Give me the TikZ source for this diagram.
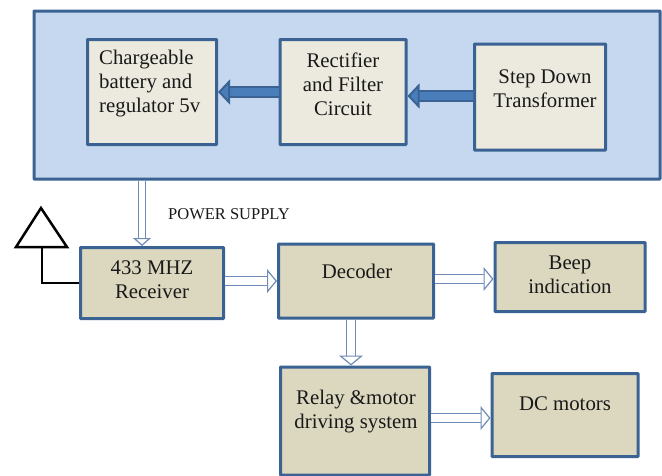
\documentclass[tikz,border=0pt]{standalone}
\usepackage{fontspec}
\setmainfont{Liberation Serif}
\usetikzlibrary{arrows.meta}
\usetikzlibrary{calc}
\usetikzlibrary{positioning}
\definecolor{boxline}{HTML}{3A6292}
\definecolor{panelfill}{HTML}{C6D8F0}
\definecolor{lightfill}{HTML}{ECEADF}
\definecolor{darkfill}{HTML}{DCD8C0}
\definecolor{thickfill}{HTML}{4A7EBB}
\definecolor{thinline}{HTML}{6F8CB6}
\begin{document}
\begin{tikzpicture}[
    x=1pt, y=-1pt,
    panelbox/.style={
      draw=boxline, line width=3pt, fill=panelfill, rounded corners=0.5pt
    },
    blockbox/.style={
      draw=boxline, line width=3pt, rounded corners=0.5pt, inner sep=0pt
    },
    lightbox/.style={blockbox, fill=lightfill},
    darkbox/.style={blockbox, fill=darkfill},
    boxtext/.style={
      align=center, text=black!90, inner sep=0pt,
      font=\fontsize{20.8}{24}\selectfont
    },
    thickarrow/.style={
      draw=boxline, double=thickfill, double distance=7.5pt, line width=2pt,
      -{Triangle[length=12pt,width=25pt,fill=thickfill,line width=2pt]}
    },
    hollowarrow/.style={
      draw=thinline, double=white, double distance=8.5pt, line width=1.2pt,
      -{Triangle[open,length=10pt,width=24pt,fill=white,line width=1.2pt]}
    }
  ]
    \useasboundingbox (0,0) rectangle (662,475);

    \node[panelbox, minimum width=626pt, minimum height=168pt] (PNL) at (347,95) {};

    \node[lightbox, minimum width=129pt, minimum height=105pt] (BAT) at (152, 92) {};
    \node[lightbox, minimum width=126pt, minimum height=105pt] (REC) at (343, 92) {};
    \node[lightbox, minimum width=131pt, minimum height=106pt] (STP) at (540, 97) {};

    \node[darkbox, minimum width=143pt, minimum height=71pt] (RCV) at (152,283) {};
    \node[darkbox, minimum width=155pt, minimum height=74pt] (DEC) at (356,281) {};
    \node[darkbox, minimum width=150pt, minimum height=69pt] (BEP) at (570,277) {};
    \node[darkbox, minimum width=149pt, minimum height=108pt] (RLY) at (355,421) {};
    \node[darkbox, minimum width=146pt, minimum height=83pt] (DCM) at (565,415) {};

    % texts sit above the middle of the boxes
    \node[boxtext, align=left, anchor=north west] (BATT) at (99,50) {Chargeable\\battery and\\regulator 5v};
    \node[boxtext] (RECT) at (343,84) {Rectifier\\and Filter\\Circuit};
    \node[boxtext] (STPT) at (545,89) {Step Down\\Transformer};
    \node[boxtext] (RCVT) at (152,280) {433 MHZ\\Receiver};
    \node[boxtext] (DECT) at (357,271) {Decoder};
    \node[boxtext] (BEPT) at (570,275) {Beep\\indication};
    \node[boxtext] (RLYT) at (356,412) {Relay \&motor\\driving system};
    \node[boxtext] (DCMT) at (565,404) {DC motors};

    \node[boxtext, font=\fontsize{16.5}{18}\selectfont] (PWR) at (229,214) {POWER SUPPLY};

    % antenna
    \coordinate (ANT) at (41,208);
    \coordinate (ANL) at (16,247);
    \coordinate (ANR) at (67,247);
    \coordinate (ANB) at (42,247);
    \draw[line width=2.5pt, line join=miter] (ANT) -- (ANR) -- (ANL) -- cycle;
    \draw[line width=2.2pt] (ANB) |- (RCV.west);

    \draw[thickarrow] (REC.west) -- (BAT.east);
    \draw[thickarrow] (STP.west |- 0,96) -- (REC.east |- 0,96);

    \draw[hollowarrow, double distance=6.5pt, -{Triangle[open,length=8pt,width=18pt,fill=white,line width=1.2pt]}] (PNL.south -| 142,0) -- (RCV.north -| 142,0);
    \draw[hollowarrow] (RCV.east |- 0,281) -- (DEC.west |- 0,281);
    \draw[hollowarrow] (DEC.east |- 0,279) -- (BEP.west |- 0,279);
    \draw[hollowarrow] (DEC.south -| 351,0) -- (RLY.north -| 351,0);
    \draw[hollowarrow] (RLY.east |- 0,418) -- (DCM.west |- 0,418);
  \end{tikzpicture}
\end{document}
